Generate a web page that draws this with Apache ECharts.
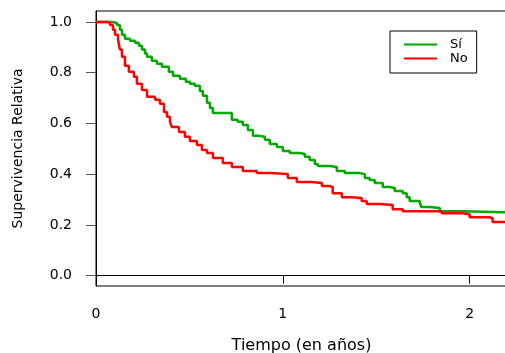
<!DOCTYPE html>
<html>
<head>
<meta charset="utf-8">
<script src="https://cdn.jsdelivr.net/npm/echarts@6/dist/echarts.min.js"></script>
<style>
  html, body { margin: 0; padding: 0; background: #fff; }
  #chart { width: 505px; height: 353px; }
</style>
</head>
<body>
<div id="chart"></div>
<script>
// Kaplan-Meier estimates: time in years, relative survival
const seriesNames = ['Sí', 'No'];

const siTime = [0, 0.086, 0.112, 0.128, 0.139, 0.155, 0.182, 0.209, 0.230, 0.246,
  0.262, 0.273, 0.299, 0.326, 0.353, 0.390, 0.412, 0.449, 0.481, 0.503,
  0.529, 0.556, 0.572, 0.594, 0.610, 0.626, 0.727, 0.759, 0.786, 0.813,
  0.840, 0.866, 0.904, 0.930, 0.968, 1.000, 1.037, 1.091, 1.118, 1.144,
  1.171, 1.187, 1.251, 1.289, 1.332, 1.412, 1.439, 1.465, 1.492, 1.535,
  1.572, 1.599, 1.642, 1.663, 1.679, 1.733, 1.743, 1.786, 1.840, 1.957, 2.2];
const siSurv = [1.000, 0.996, 0.988, 0.969, 0.949, 0.934, 0.926, 0.918, 0.906, 0.891,
  0.875, 0.863, 0.847, 0.835, 0.823, 0.804, 0.788, 0.776, 0.764, 0.756,
  0.748, 0.728, 0.709, 0.681, 0.661, 0.641, 0.614, 0.606, 0.594, 0.574,
  0.551, 0.547, 0.535, 0.519, 0.507, 0.491, 0.483, 0.479, 0.468, 0.456,
  0.440, 0.432, 0.428, 0.412, 0.404, 0.400, 0.385, 0.377, 0.365, 0.349,
  0.345, 0.333, 0.325, 0.309, 0.294, 0.286, 0.270, 0.266, 0.254, 0.250, 0.250];

const noTime = [0, 0.064, 0.075, 0.091, 0.102, 0.118, 0.128, 0.139, 0.155, 0.176,
  0.203, 0.219, 0.246, 0.273, 0.316, 0.342, 0.364, 0.380, 0.396, 0.406,
  0.444, 0.476, 0.503, 0.540, 0.567, 0.594, 0.626, 0.679, 0.727, 0.786,
  0.861, 0.930, 1.027, 1.075, 1.155, 1.209, 1.251, 1.267, 1.316, 1.369,
  1.422, 1.449, 1.519, 1.588, 1.642, 1.850, 1.963, 2.000, 2.107, 2.123, 2.2];
const noSurv = [1.000, 0.996, 0.988, 0.969, 0.949, 0.930, 0.891, 0.863, 0.827, 0.804,
  0.784, 0.756, 0.732, 0.705, 0.693, 0.677, 0.645, 0.626, 0.606, 0.586,
  0.566, 0.547, 0.531, 0.515, 0.495, 0.483, 0.464, 0.444, 0.428, 0.412,
  0.404, 0.400, 0.385, 0.369, 0.365, 0.353, 0.349, 0.325, 0.309, 0.306,
  0.294, 0.282, 0.278, 0.262, 0.254, 0.246, 0.242, 0.230, 0.226, 0.211, 0.211];

const xTicks = [0, 1, 2];
const yTicks = [0, 0.2, 0.4, 0.6, 0.8, 1.0];

const FONT = 'DejaVu Sans';
const GREEN = '#00A800';
const RED = '#FF0000';

function pairs(ts, ss) {
  return ts.map((t, i) => [t, ss[i]]);
}

const chart = echarts.init(document.getElementById('chart'), null, { renderer: 'canvas' });

chart.setOption({
  animation: false,
  backgroundColor: '#fff',
  grid: {
    left: 96, top: 11, right: -2, bottom: 67,
    outerBoundsMode: 'none',
    containLabel: false,
    show: true, borderColor: '#000', borderWidth: 1, backgroundColor: 'transparent'
  },
  legend: {
    data: seriesNames,
    orient: 'vertical',
    left: 390, top: 31,
    padding: [7, 9, 8, 13],
    itemWidth: 33, itemHeight: 14, itemGap: 1,
    borderColor: '#000', borderWidth: 1, borderRadius: 0,
    backgroundColor: '#fff',
    // plain line keys, no point marker
    itemStyle: { opacity: 0 },
    lineStyle: { width: 2 },
    textStyle: { fontFamily: FONT, fontSize: 13, color: '#000', padding: [0, 0, 0, 8] }
  },
  xAxis: {
    type: 'value',
    min: 0, max: 2.2,
    name: 'Tiempo (en años)',
    nameLocation: 'middle',
    nameGap: 52,
    nameTextStyle: { fontFamily: FONT, fontSize: 16, color: '#000' },
    axisLine: { show: true, lineStyle: { color: '#000', width: 1 } },
    axisTick: { show: true, length: 8, lineStyle: { color: '#000' }, customValues: xTicks },
    axisLabel: {
      customValues: xTicks, margin: 21,
      fontFamily: FONT, fontSize: 14, color: '#000',
      formatter: v => String(v)
    },
    splitLine: { show: false }
  },
  yAxis: {
    type: 'value',
    min: -0.041, max: 1.043,
    name: 'Supervivencia Relativa',
    nameLocation: 'middle',
    nameGap: 71,
    nameTextStyle: { fontFamily: FONT, fontSize: 14, color: '#000' },
    axisLine: { show: true, lineStyle: { color: '#000', width: 1 } },
    axisTick: { show: true, length: 10, lineStyle: { color: '#555' }, customValues: yTicks },
    axisLabel: {
      customValues: yTicks, margin: 24,
      fontFamily: FONT, fontSize: 14, color: '#000',
      formatter: v => v.toFixed(1)
    },
    splitLine: { show: false }
  },
  series: [
    {
      name: seriesNames[0], type: 'line', step: 'end',
      data: pairs(siTime, siSurv),
      symbol: 'none', clip: true,
      lineStyle: { color: GREEN, width: 2.5 },
      itemStyle: { color: GREEN }
    },
    {
      name: seriesNames[1], type: 'line', step: 'end',
      data: pairs(noTime, noSurv),
      symbol: 'none', clip: true,
      lineStyle: { color: RED, width: 2.5 },
      itemStyle: { color: RED }
    }
  ]
});
</script>
</body>
</html>
